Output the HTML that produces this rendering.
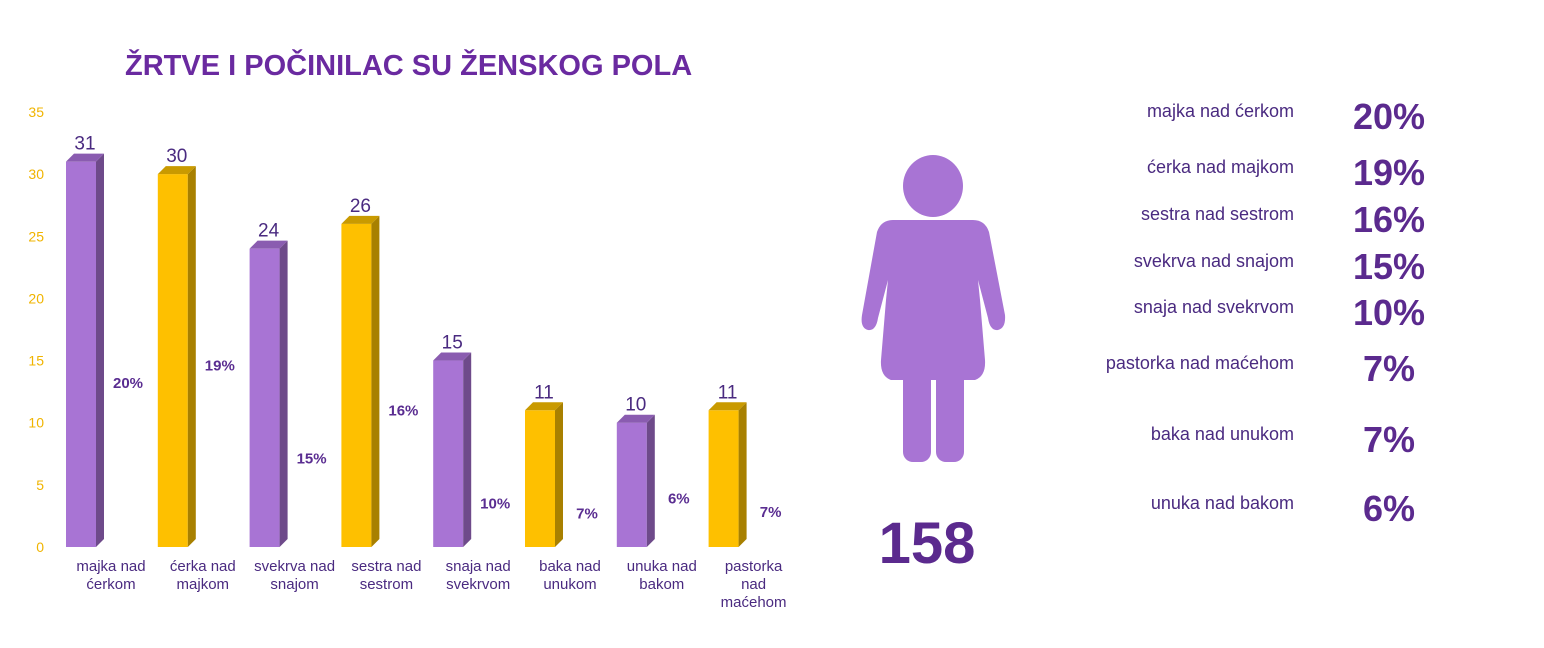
<!DOCTYPE html>
<html><head><meta charset="utf-8"><style>
body{margin:0;background:#fff;width:1544px;height:643px;overflow:hidden;font-family:"Liberation Sans",sans-serif}
</style></head><body>
<svg id="c" width="1544" height="643" xmlns="http://www.w3.org/2000/svg">
<text x="125" y="75" font-size="29" font-weight="bold" fill="#6a2aa0">ŽRTVE I POČINILAC SU ŽENSKOG POLA</text>
<g id="axis"></g><g id="bars"></g>
<g fill="#a874d4">
<ellipse cx="933" cy="186" rx="30" ry="31"/>
<path d="M893 220 L973 220 Q985 220 989 232 L1005 315 Q1006 328 998 330 Q990 331 988 318 L978 280 L980 300 L985 360 Q986 376 975 380 L891 380 Q880 376 881 360 L886 300 L888 280 L878 318 Q876 331 868 330 Q860 328 862 315 L877 232 Q881 220 893 220 Z"/>
<rect x="903" y="365" width="28" height="97" rx="10"/>
<rect x="936" y="365" width="28" height="97" rx="10"/>
</g>
<text x="927" y="563" font-size="58" font-weight="bold" fill="#5b2a8e" text-anchor="middle">158</text>
<g id="list"></g>
</svg>
<script>
const categories=["majka nad|ćerkom","ćerka nad|majkom","svekrva nad|snajom","sestra nad|sestrom","snaja nad|svekrvom","baka nad|unukom","unuka nad|bakom","pastorka|nad|maćehom"];
const counts=[31,30,24,26,15,11,10,11];
const pctLabels=["20%","19%","15%","16%","10%","7%","6%","7%"];
const pctLabelLevel=[13.2,14.6,7.1,11.0,3.5,2.7,3.9,2.8];
const ticks=[0,5,10,15,20,25,30,35];
const listLabels=["majka nad ćerkom","ćerka nad majkom","sestra nad sestrom","svekrva nad snajom","snaja nad svekrvom","pastorka nad maćehom","baka nad unukom","unuka nad bakom"];
const listPcts=["20%","19%","16%","15%","10%","7%","7%","6%"];
const NS="http://www.w3.org/2000/svg";
const y=v=>547-v*12.43;
const x=i=>66+i*91.8;
function mk(t,a,p){const e=document.createElementNS(NS,t);for(const k in a)e.setAttribute(k,a[k]);p.appendChild(e);return e;}
const ax=document.getElementById('axis'),bg=document.getElementById('bars'),lg=document.getElementById('list');
ticks.forEach(t=>{const e=mk('text',{x:44,y:y(t)+5,'font-size':14,fill:'#f0b400','text-anchor':'end'},ax);e.textContent=t;

});
counts.forEach((v,i)=>{
const purple=i%2===0;const f=purple?'#a874d4':'#fec000',s=purple?'#6e4a8a':'#a88000',tp=purple?'#8a5cb0':'#c99a00';
const x0=x(i),w=30,d=8,yt=y(v);
const g=mk('g',{},bg);


mk('rect',{x:x0,y:yt,width:w,height:547-yt,fill:f},g);
mk('polygon',{points:`${x0+w},${yt} ${x0+w+d},${yt-8} ${x0+w+d},539 ${x0+w},547`,fill:s},g);
mk('polygon',{points:`${x0},${yt} ${x0+d},${yt-8} ${x0+w+d},${yt-8} ${x0+w},${yt}`,fill:tp},g);
const vl=mk('text',{x:x0+19,y:yt-12,'font-size':19,fill:'#4a2a80','text-anchor':'middle'},bg);vl.textContent=v;


const pl=mk('text',{x:x0+62,y:y(pctLabelLevel[i])+5,'font-size':15,'font-weight':'bold',fill:'#5a2d91','text-anchor':'middle'},bg);pl.textContent=pctLabels[i];


categories[i].split('|').forEach((ln,j)=>{const c=mk('text',{x:x0+45,y:571+j*18,'font-size':15,fill:'#4a2a80','text-anchor':'middle'},bg);c.textContent=ln;

});
});
const rowY=[111,167,214,261,307,363,434,503];
listLabels.forEach((l,i)=>{
const t=mk('text',{x:1294,y:rowY[i]+6,'font-size':18,fill:'#4a2a80','text-anchor':'end'},lg);t.textContent=l;


const p=mk('text',{x:1389,y:rowY[i]+18,'font-size':36,'font-weight':'bold',fill:'#5b2a8e','text-anchor':'middle'},lg);p.textContent=listPcts[i];


});
</script>
</body></html>
